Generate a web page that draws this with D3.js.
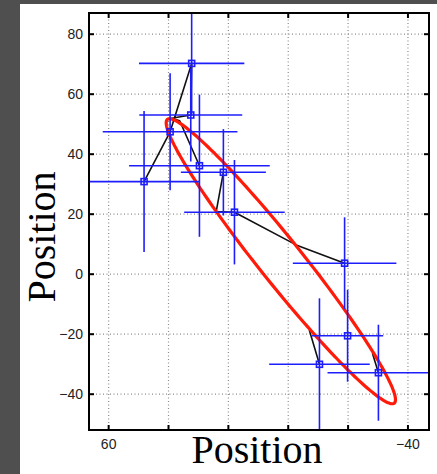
<!DOCTYPE html>
<html>
<head>
<meta charset="utf-8">
<script src="https://cdn.jsdelivr.net/npm/d3@7"></script>
<style>
  body { margin: 0; background: #4f4f4f; }
  svg { display: block; }
</style>
</head>
<body>
<svg id="chart" width="437" height="474"></svg>
<script>
// axis ticks
var xGrid = [60, 40, 20, 0, -20, -40];
var xTickLabels = [60, -40];
var yTicks = [80, 60, 40, 20, 0, -20, -40];

// measurements with error bars
var measX = [48, 39.3, 32.1, 32.4, 29.5, 21.5, 17.8, -19, -20, -10.6, -30.3];
var measY = [30.7, 47.3, 70.1, 52.9, 36, 33.8, 20.5, 3.5, -20.7, -30.2, -33];
var errX  = [18.5, 22.5, 17.6, 17.2, 23.5, 14.2, 16.8, 17.3, 11.9, 16.8, 17];
var errY  = [23.5, 19.5, 17.5, 15.5, 23.7, 14.4, 17.4, 15.3, 15.3, 22, 16];

// black track (null = break)
var trackX = [48, 39.3, 32.1, 32.4, 38.8, 36.1, 29.5, null, 21.5, 23.9, 17.8, -2.8, -19, null, -7.2, -10.6, null, -28.3, -30.3];
var trackY = [30.7, 47.3, 70.1, 52.9, 51.8, 51, 36, null, 33.8, 20.7, 20.5, 9.6, 3.5, null, -18.8, -30.2, null, -26.5, -33];

// covariance ellipse: centre, semi axes, angle (deg)
var ellCentre = [2.3, 4.15];
var ellAxes = [60.6, 7.2];
var ellAngle = 51.3;

(function() {
  var svg = d3.select('#chart');

  // white panel
  svg.append('rect')
    .attr('x', 20).attr('y', 4)
    .attr('width', 417).attr('height', 470)
    .attr('fill', '#fff');

  var pl = 89, pt = 13, pr = 429, pb = 430;
  var w = pr - pl, h = pb - pt;

  var x = d3.scaleLinear().domain([66.4, -47.2]).range([pl, pr]);
  var y = d3.scaleLinear().domain([-52.1, 86.9]).range([pb, pt]);

  svg.append('clipPath').attr('id', 'plotclip')
    .append('rect').attr('x', pl).attr('y', pt).attr('width', w).attr('height', h);

  // dotted grid
  var gridX = svg.append('g')
    .attr('transform', 'translate(0,' + pb + ')')
    .call(d3.axisBottom(x).tickValues(xGrid).tickSize(-h).tickFormat(''));
  var gridY = svg.append('g')
    .attr('transform', 'translate(' + pl + ',0)')
    .call(d3.axisLeft(y).tickValues(yTicks).tickSize(-w).tickFormat(''));
  [gridX, gridY].forEach(function(g) {
    g.select('.domain').remove();
    g.selectAll('line')
      .attr('stroke', '#8c8c8c')
      .attr('stroke-width', 1.2)
      .attr('stroke-dasharray', '1,2.5');
  });

  var plot = svg.append('g').attr('clip-path', 'url(#plotclip)');

  // track
  var track = trackX.map(function(v, i) { return [v, trackY[i]]; });
  plot.append('path')
    .datum(track)
    .attr('fill', 'none')
    .attr('stroke', '#111')
    .attr('stroke-width', 1.6)
    .attr('stroke-linejoin', 'round')
    .attr('d', d3.line()
      .defined(function(d) { return d[0] != null; })
      .x(function(d) { return x(d[0]); })
      .y(function(d) { return y(d[1]); }));

  // ellipse
  var th = ellAngle * Math.PI / 180;
  var ell = d3.range(0, 360, 2).map(function(deg) {
    var t = deg * Math.PI / 180;
    var a = ellAxes[0] * Math.cos(t), b = ellAxes[1] * Math.sin(t);
    return [ellCentre[0] + a * Math.cos(th) - b * Math.sin(th),
            ellCentre[1] + a * Math.sin(th) + b * Math.cos(th)];
  });
  plot.append('path')
    .datum(ell)
    .attr('fill', 'none')
    .attr('stroke', '#ff1a0a')
    .attr('stroke-width', 3.2)
    .attr('d', d3.line()
      .x(function(d) { return x(d[0]); })
      .y(function(d) { return y(d[1]); })
      .curve(d3.curveLinearClosed));

  // error bars + markers
  var blue = '#1e1efa';
  var pts = measX.map(function(v, i) {
    return { x: v, y: measY[i], ex: errX[i], ey: errY[i] };
  });
  var gp = plot.selectAll('g.pt').data(pts).enter().append('g').attr('class', 'pt');
  gp.append('line')
    .attr('x1', function(d) { return x(d.x - d.ex); })
    .attr('x2', function(d) { return x(d.x + d.ex); })
    .attr('y1', function(d) { return y(d.y); })
    .attr('y2', function(d) { return y(d.y); })
    .attr('stroke', blue).attr('stroke-width', 1.6);
  gp.append('line')
    .attr('x1', function(d) { return x(d.x); })
    .attr('x2', function(d) { return x(d.x); })
    .attr('y1', function(d) { return y(d.y - d.ey); })
    .attr('y2', function(d) { return y(d.y + d.ey); })
    .attr('stroke', blue).attr('stroke-width', 1.6);
  gp.append('rect')
    .attr('x', function(d) { return x(d.x) - 3; })
    .attr('y', function(d) { return y(d.y) - 3; })
    .attr('width', 6).attr('height', 6)
    .attr('fill', 'none')
    .attr('stroke', blue).attr('stroke-width', 1.6);

  // inward ticks on all four sides
  function ticks(axis, tx, ty) {
    var g = svg.append('g').attr('transform', 'translate(' + tx + ',' + ty + ')').call(axis);
    g.select('.domain').remove();
    g.selectAll('text').remove();
    g.selectAll('line').attr('stroke', '#000').attr('stroke-width', 2);
  }
  ticks(d3.axisBottom(x).tickValues(xGrid).tickSize(-5), 0, pb);
  ticks(d3.axisTop(x).tickValues(xGrid).tickSize(-5), 0, pt);
  ticks(d3.axisLeft(y).tickValues(yTicks).tickSize(-5), pl, 0);
  ticks(d3.axisRight(y).tickValues(yTicks).tickSize(-5), pr, 0);

  // frame
  svg.append('rect')
    .attr('x', pl).attr('y', pt).attr('width', w).attr('height', h)
    .attr('fill', 'none').attr('stroke', '#000').attr('stroke-width', 2);

  // tick labels
  var xl = svg.append('g')
    .attr('transform', 'translate(0,' + pb + ')')
    .call(d3.axisBottom(x).tickValues(xTickLabels).tickSize(0).tickPadding(9));
  var yl = svg.append('g')
    .attr('transform', 'translate(' + pl + ',0)')
    .call(d3.axisLeft(y).tickValues(yTicks).tickSize(0).tickPadding(6));
  [xl, yl].forEach(function(g) {
    g.select('.domain').remove();
    g.selectAll('text')
      .attr('font-family', 'Liberation Sans, Arial, sans-serif')
      .attr('font-size', 14)
      .attr('fill', '#222');
  });

  // axis titles
  svg.append('text')
    .attr('x', 257).attr('y', 463)
    .attr('text-anchor', 'middle')
    .attr('font-family', 'Liberation Serif, Times New Roman, serif')
    .attr('font-size', 40)
    .attr('fill', '#000')
    .text('Position');
  svg.append('text')
    .attr('transform', 'translate(55,237) rotate(-90)')
    .attr('text-anchor', 'middle')
    .attr('font-family', 'Liberation Serif, Times New Roman, serif')
    .attr('font-size', 40)
    .attr('fill', '#000')
    .text('Position');
})();
</script>
</body>
</html>
